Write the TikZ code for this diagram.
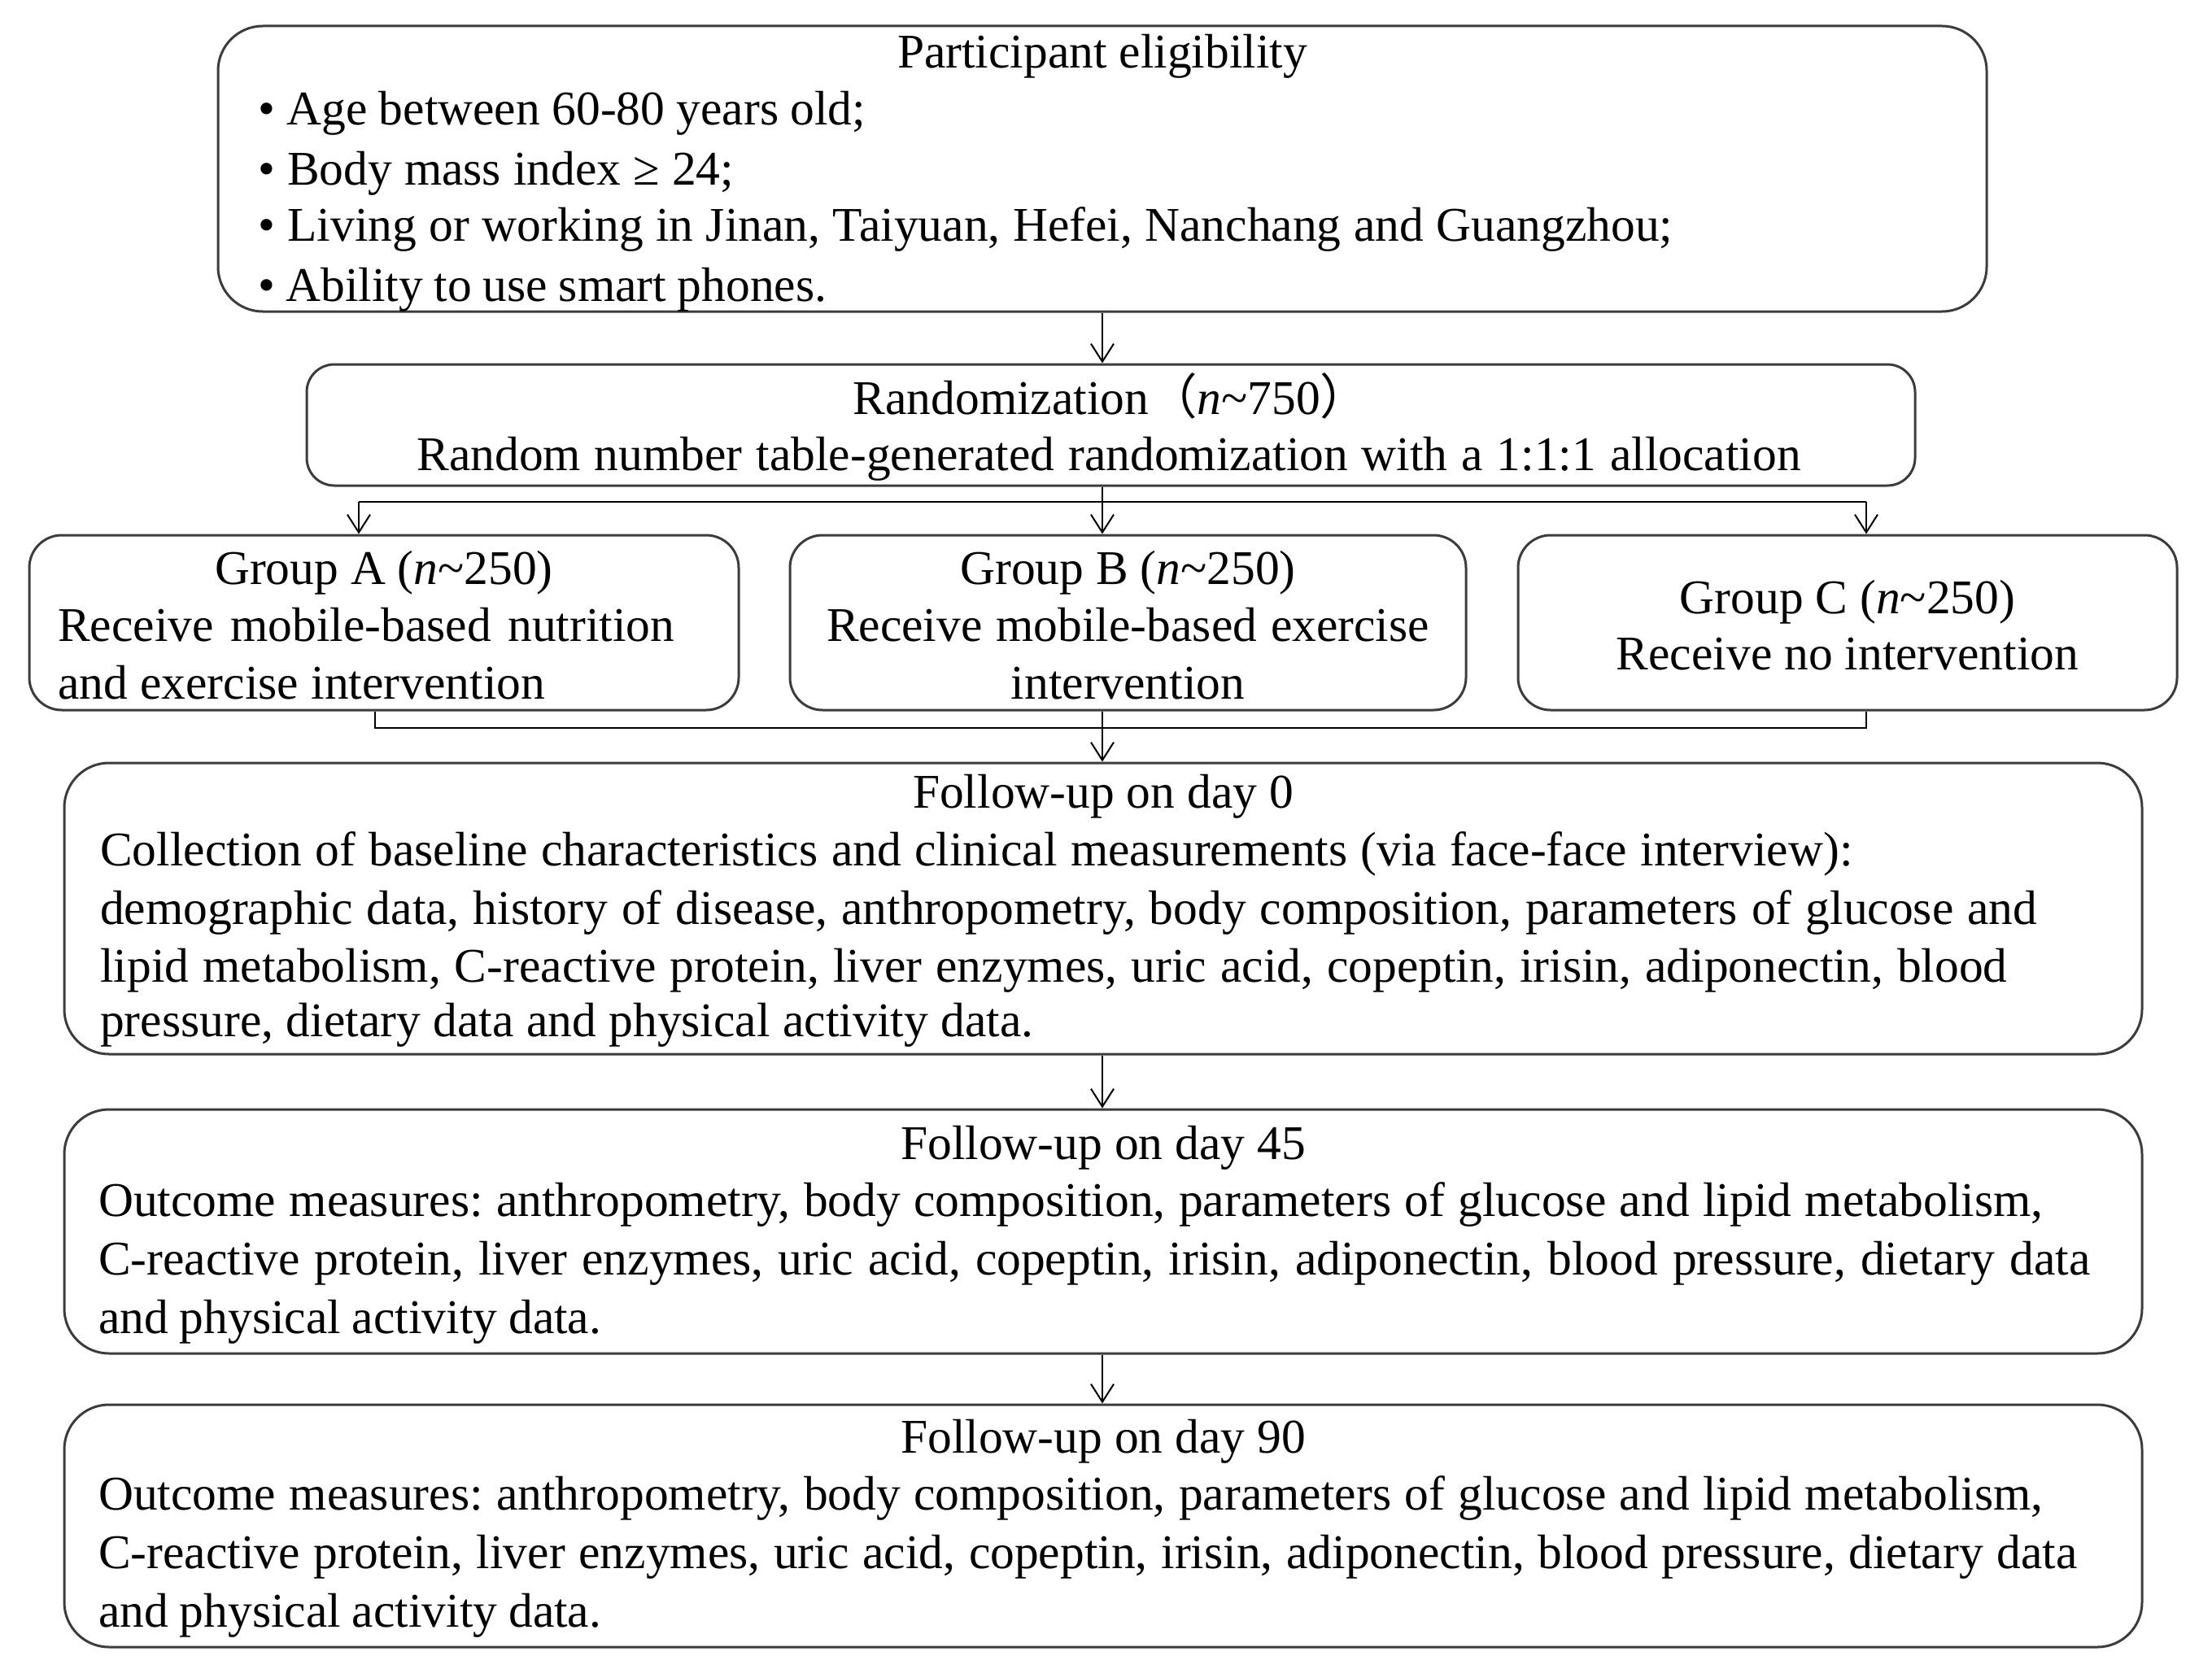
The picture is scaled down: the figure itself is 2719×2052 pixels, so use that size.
\documentclass[tikz,border=0pt]{standalone}
\usepackage{fontspec}
\setmainfont{Liberation Serif}
\newfontfamily\cjkfont{Noto Sans CJK SC}
\usetikzlibrary{arrows.meta}
\definecolor{boxgray}{HTML}{3C3C3C}
\frenchspacing
\tikzset{
  box/.style={draw=boxgray, line width=3pt, inner sep=0pt},
  bigbox/.style={box, rounded corners=55pt},
  randbox/.style={box, rounded corners=34pt},
  grpbox/.style={box, rounded corners=40pt},
  txt/.style={inner sep=0pt, font=\fontsize{59.5pt}{70pt}\selectfont},
  conn/.style={draw=black, line width=2pt},
  arr/.style={conn, -{Straight Barb[length=22pt,width=28pt,line width=2pt]}},
}
\newcommand{\txtline}[2]{\makebox[#1pt][s]{#2}}
\begin{document}
\begin{tikzpicture}[x=1pt,y=-1pt]
\useasboundingbox (0,0) rectangle (2719,2052);
% boxes
\node[bigbox, minimum width=2174pt, minimum height=351pt] (elig) at (1355,207.5) {};
\node[randbox, minimum width=1977pt, minimum height=149pt] (rand) at (1365.5,522.5) {};
\node[grpbox, minimum width=872pt, minimum height=215pt] (gA) at (472,765.5) {};
\node[grpbox, minimum width=831pt, minimum height=215pt] (gB) at (1386.5,765.5) {};
\node[grpbox, minimum width=810pt, minimum height=215pt] (gC) at (2271,765.5) {};
\node[bigbox, minimum width=2554pt, minimum height=358pt] (d0) at (1356,1117) {};
\node[bigbox, minimum width=2554pt, minimum height=300pt] (d45) at (1356,1514) {};
\node[bigbox, minimum width=2554pt, minimum height=298pt] (d90) at (1356,1876) {};
% eligibility text
\node[txt, anchor=base] (eligT) at (1355,84) {Participant eligibility};
\node[txt, anchor=base west] (eligL1) at (317,154) {\txtline{747}{• Age between 60-80 years old;}};
\node[txt, anchor=base west] (eligL2) at (317,228) {\txtline{585}{• Body mass index ≥ 24;}};
\node[txt, anchor=base west] (eligL3) at (317,297) {\txtline{1739}{• Living or working in Jinan, Taiyuan, Hefei, Nanchang and Guangzhou;}};
\node[txt, anchor=base west] (eligL4) at (317,370) {\txtline{699}{• Ability to use smart phones.}};
% randomization text
\node[txt, anchor=base] (randT) at (1365.5,509) {Randomization{\cjkfont （}\textit{n}\textasciitilde 750{\cjkfont ）}};
\node[txt, anchor=base] (randL) at (1363,578) {\txtline{1701}{Random number table-generated randomization with a 1:1:1 allocation}};
% groups
\node[txt, anchor=base] (gAT) at (472,718) {Group A (\textit{n}\textasciitilde 250)};
\node[txt, anchor=base west] (gAL1) at (71,788) {\txtline{758}{Receive mobile-based nutrition}};
\node[txt, anchor=base west] (gAL2) at (71,859) {\txtline{599}{and exercise intervention}};
\node[txt, anchor=base] (gBT) at (1386.5,718) {Group B (\textit{n}\textasciitilde 250)};
\node[txt, anchor=base] (gBL1) at (1386.5,788) {\txtline{741}{Receive mobile-based exercise}};
\node[txt, anchor=base] (gBL2) at (1386.5,859) {intervention};
\node[txt, anchor=base] (gCT) at (2271,754) {Group C (\textit{n}\textasciitilde 250)};
\node[txt, anchor=base] (gCL1) at (2271,823) {Receive no intervention};
% day 0
\node[txt, anchor=base] (d0T) at (1356,993) {Follow-up on day 0};
\node[txt, anchor=base west] (d0L1) at (123,1064) {\txtline{2154}{Collection of baseline characteristics and clinical measurements (via face-face interview):}};
\node[txt, anchor=base west] (d0L2) at (123,1136) {\txtline{2381}{demographic data, history of disease, anthropometry, body composition, parameters of glucose and}};
\node[txt, anchor=base west] (d0L3) at (123,1207) {\txtline{2344}{lipid metabolism, C-reactive protein, liver enzymes, uric acid, copeptin, irisin, adiponectin, blood}};
\node[txt, anchor=base west] (d0L4) at (123,1274) {\txtline{1147}{pressure, dietary data and physical activity data.}};
% day 45
\node[txt, anchor=base] (d45T) at (1356,1425) {Follow-up on day 45};
\node[txt, anchor=base west] (d45L1) at (121,1495) {\txtline{2390}{Outcome measures: anthropometry, body composition, parameters of glucose and lipid metabolism,}};
\node[txt, anchor=base west] (d45L2) at (121,1567) {\txtline{2448}{C-reactive protein, liver enzymes, uric acid, copeptin, irisin, adiponectin, blood pressure, dietary data}};
\node[txt, anchor=base west] (d45L3) at (121,1639) {\txtline{618}{and physical activity data.}};
% day 90
\node[txt, anchor=base] (d90T) at (1356,1786) {Follow-up on day 90};
\node[txt, anchor=base west] (d90L1) at (121,1856) {\txtline{2390}{Outcome measures: anthropometry, body composition, parameters of glucose and lipid metabolism,}};
\node[txt, anchor=base west] (d90L2) at (121,1928) {\txtline{2432}{C-reactive protein, liver enzymes, uric acid, copeptin, irisin, adiponectin, blood pressure, dietary data}};
\node[txt, anchor=base west] (d90L3) at (121,2000) {\txtline{618}{and physical activity data.}};
% connectors
\coordinate (bl) at (441,617);
\coordinate (br) at (2294,617);
\coordinate (cl) at (461,895);
\coordinate (cr) at (2294,895);
\draw[arr] (elig.south) -- (elig.south |- rand.north);
\draw[arr] (elig.south |- rand.south) -- (elig.south |- gB.north);
\draw[conn] (bl) -- (br);
\draw[arr] (bl) -- (bl |- gA.north);
\draw[arr] (br) -- (br |- gC.north);
\draw[conn] (cl |- gA.south) -- (cl) -- (cr) -- (cr |- gC.south);
\draw[arr] (elig.south |- gB.south) -- (elig.south |- d0.north);
\draw[arr] (elig.south |- d0.south) -- (elig.south |- d45.north);
\draw[arr] (elig.south |- d45.south) -- (elig.south |- d90.north);
\end{tikzpicture}
\end{document}
